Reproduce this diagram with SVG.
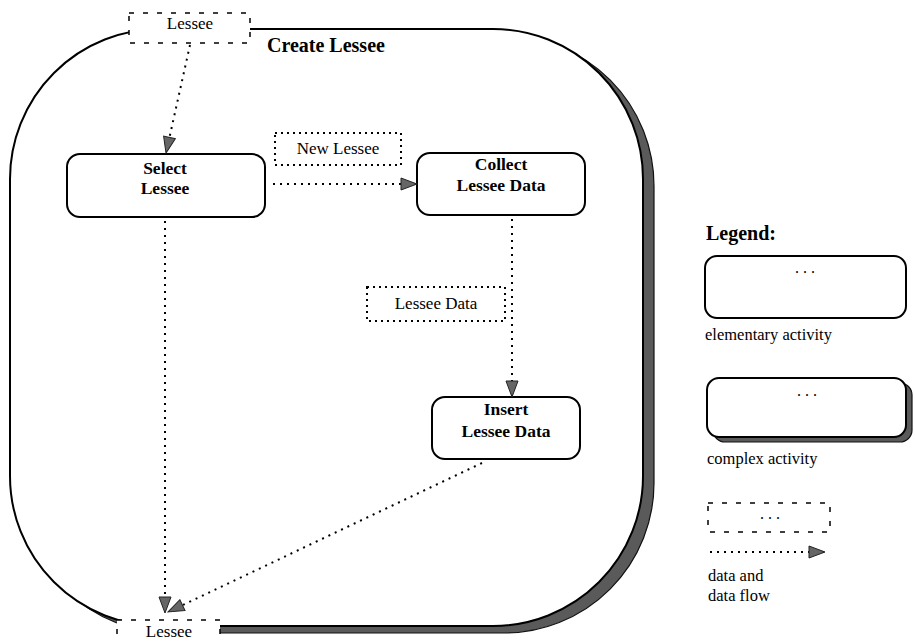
<svg xmlns="http://www.w3.org/2000/svg" width="915" height="641" viewBox="0 0 915 641">
  <style>
    .bg { fill: #ffffff; }
    .act { fill: #ffffff; stroke: #000; stroke-width: 2; }
    .shadow { fill: #5a5a5a; stroke: #111; stroke-width: 1.2; }
    .data { fill: #ffffff; stroke: #000; stroke-width: 1.5; stroke-dasharray: 5 9; }
    .data-dense { fill: #ffffff; stroke: #000; stroke-width: 2; stroke-dasharray: 2 4; }
    .flow { fill: none; stroke: #000; stroke-width: 2; stroke-dasharray: 2 5; marker-end: url(#head); }
    .lbl { font-size: 17px; fill: #000; text-anchor: middle; }
    .title { font-size: 17.5px; font-weight: bold; fill: #000; text-anchor: middle; }
    .head { font-size: 20px; font-weight: bold; fill: #000; }
    .note { font-size: 16.5px; fill: #000; }
    .dots { font-size: 16px; fill: #000; text-anchor: middle; }
  </style>
  <defs>
    <marker id="head" markerUnits="userSpaceOnUse" markerWidth="18" markerHeight="14" refX="17" refY="7" orient="auto">
      <path d="M1,1 L17,7 L1,13 z" fill="#666" stroke="#222" stroke-width="1"/>
    </marker>
  </defs>

  <rect class="bg" x="0" y="0" width="915" height="641"/>

  <g font-family="Liberation Serif, Times New Roman, serif">
  <!-- complex activity: Create Lessee -->
  <g id="create-lessee">
    <rect class="shadow" x="21" y="36" width="633" height="597" rx="150" ry="150"/>
    <rect class="act" x="10" y="29" width="633" height="597" rx="150" ry="150"/>
    <text class="head" x="267" y="52">Create Lessee</text>
  </g>

  <!-- elementary activities -->
  <g id="select-lessee">
    <rect class="act" x="67" y="154" width="198" height="63" rx="13" ry="13"/>
    <text class="title" x="165" y="174">Select</text>
    <text class="title" x="165" y="194">Lessee</text>
  </g>
  <g id="collect-lessee-data">
    <rect class="act" x="417" y="153" width="168" height="62" rx="13" ry="13"/>
    <text class="title" x="501" y="170">Collect</text>
    <text class="title" x="501" y="191">Lessee Data</text>
  </g>
  <g id="insert-lessee-data">
    <rect class="act" x="432" y="397" width="148" height="62" rx="13" ry="13"/>
    <text class="title" x="506" y="415">Insert</text>
    <text class="title" x="506" y="437">Lessee Data</text>
  </g>

  <!-- data flows -->
  <g id="connectors">
    <line class="flow" x1="190" y1="45" x2="166" y2="153"/>
    <line class="flow" x1="273" y1="184" x2="417" y2="184"/>
    <line class="flow" x1="165" y1="221" x2="165" y2="613"/>
    <line class="flow" x1="512" y1="219" x2="512" y2="397"/>
    <line class="flow" x1="482" y1="463" x2="168" y2="612"/>
  </g>

  <!-- data items -->
  <g id="new-lessee">
    <rect class="data-dense" x="275" y="133" width="126" height="32"/>
    <text class="lbl" x="338" y="154">New Lessee</text>
  </g>
  <g id="lessee-data">
    <rect class="data-dense" x="367" y="287" width="138" height="34"/>
    <text class="lbl" x="436" y="309">Lessee Data</text>
  </g>
  <g id="lessee-in">
    <rect class="data" x="129" y="13" width="121" height="30"/>
    <text class="lbl" x="190" y="29">Lessee</text>
  </g>
  <g id="lessee-out">
    <rect class="data" x="117" y="620" width="103" height="30"/>
    <text class="lbl" x="169" y="637">Lessee</text>
  </g>

  <!-- legend -->
  <g id="legend">
    <text class="head" x="706" y="240" font-size="21">Legend:</text>

    <rect class="act" x="705" y="256" width="201" height="62" rx="12" ry="12"/>
    <text class="dots" x="805" y="273">. . .</text>
    <text class="note" x="705" y="340">elementary activity</text>

    <rect class="shadow" x="713" y="383" width="199" height="59" rx="12" ry="12"/>
    <rect class="act" x="707" y="378" width="199" height="59" rx="12" ry="12"/>
    <text class="dots" x="807" y="396">. . .</text>
    <text class="note" x="707" y="464">complex activity</text>

    <rect class="data" x="708" y="503" width="122" height="29"/>
    <text class="dots" x="770" y="519">. . .</text>
    <line class="flow" x1="710" y1="552" x2="825" y2="552"/>
    <text class="note" x="708" y="581">data and</text>
    <text class="note" x="708" y="601">data flow</text>
  </g>
  </g>
</svg>
